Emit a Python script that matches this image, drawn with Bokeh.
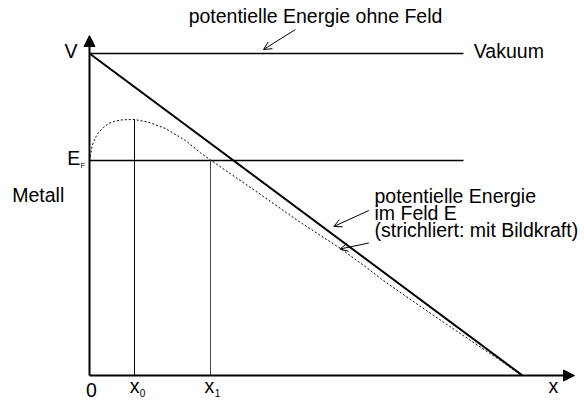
from bokeh.plotting import figure
from bokeh.models import Range1d, Arrow, NormalHead, OpenHead, Label
from bokeh.embed import file_html
from bokeh.resources import INLINE

# ---- data (arbitrary energy / distance units) ----
vacuum_level = 322          # V
fermi_level = 215           # E_F
field_zero_x = 433          # where the field potential reaches 0
level_end_x = 374           # right end of the V and E_F lines
x0 = 45                     # position of the barrier maximum
x1 = 121                    # where the image-force curve crosses E_F
axis_end_x = 485
axis_end_y = 340
# potential with image force (dashed)
image_x = [0, 2.7, 6, 9, 14, 19, 26, 33, 45, 59, 76, 96, 111, 121, 161, 191,
           208, 251, 281, 291, 331, 381, 411, 432]
image_y = [215, 230, 238, 243, 248, 252, 254.5, 255.7, 256, 253.3, 247, 235,
           222.7, 215.5, 188, 167, 155, 127, 105, 97, 69, 35, 15, 0]

FONT = "Liberation Sans"

p = figure(width=584, height=400, x_range=Range1d(-89, 495),
           y_range=Range1d(-25, 375), output_backend="svg",
           toolbar_location=None, x_axis_type=None, y_axis_type=None,
           min_border=0)
p.outline_line_color = None
p.background_fill_color = "white"
p.border_fill_color = "white"

# axes with arrow heads
p.add_layout(Arrow(end=NormalHead(size=11, fill_color="black", line_color="black", line_width=1),
                   x_start=0, y_start=0, x_end=axis_end_x, y_end=0,
                   line_width=2, line_color="black"))
p.add_layout(Arrow(end=NormalHead(size=11, fill_color="black", line_color="black", line_width=1),
                   x_start=0, y_start=0, x_end=0, y_end=axis_end_y,
                   line_width=2, line_color="black"))

# vacuum level
p.line([0, level_end_x], [vacuum_level, vacuum_level], line_width=1.7, line_color="black")
# potential in field E
p.line([0, field_zero_x], [vacuum_level, 0], line_width=2, line_color="black")
# Fermi level
p.line([0, level_end_x], [fermi_level, fermi_level], line_width=1.3, line_color="black")
# image force potential
p.line(image_x, image_y, line_width=1, line_dash="2 2", line_color="black")
# verticals at x0 and x1
p.line([x0, x0], [0, max(image_y)], line_width=1, line_color="black")
p.line([x1, x1], [0, fermi_level], line_width=1, line_color="#444444")

def lab(x, y, text, size=19.5, align="left"):
    p.add_layout(Label(x=x, y=y + 0.47 * size, text=text, text_font=FONT,
                       text_font_size=f"{size}px", text_align=align,
                       text_baseline="alphabetic", text_color="black"))

lab(-12, 315, "V", align="right")
lab(-22.3, 208.3, "E")
lab(-9, 206.7, "F", size=8)
lab(-77.3, 171, "Metall")
lab(2, -23.3, "0", align="center")
lab(40.3, -20, "x")
lab(50.3, -22.3, "0", size=10)
lab(115, -20, "x")
lab(125.3, -22.3, "1", size=10)
lab(459, -20, "x")
lab(384.3, 315, "Vakuum")
lab(226, 350, "potentielle Energie ohne Feld", align="center")
lab(285, 170.7, "potentielle Energie")
lab(285, 153.3, "im Feld E")
lab(285, 136, "(strichliert: mit Bildkraft)")

# pointer arrows
for xs, ys, xe, ye in [(206, 346, 174, 326), (279.3, 165, 244.3, 149), (279.3, 132.5, 250.5, 126.5)]:
    p.add_layout(Arrow(end=OpenHead(size=8, line_width=1, line_color="black"),
                       x_start=xs, y_start=ys, x_end=xe, y_end=ye,
                       line_width=1, line_color="black"))

open("out.html", "w").write(file_html(p, INLINE))
